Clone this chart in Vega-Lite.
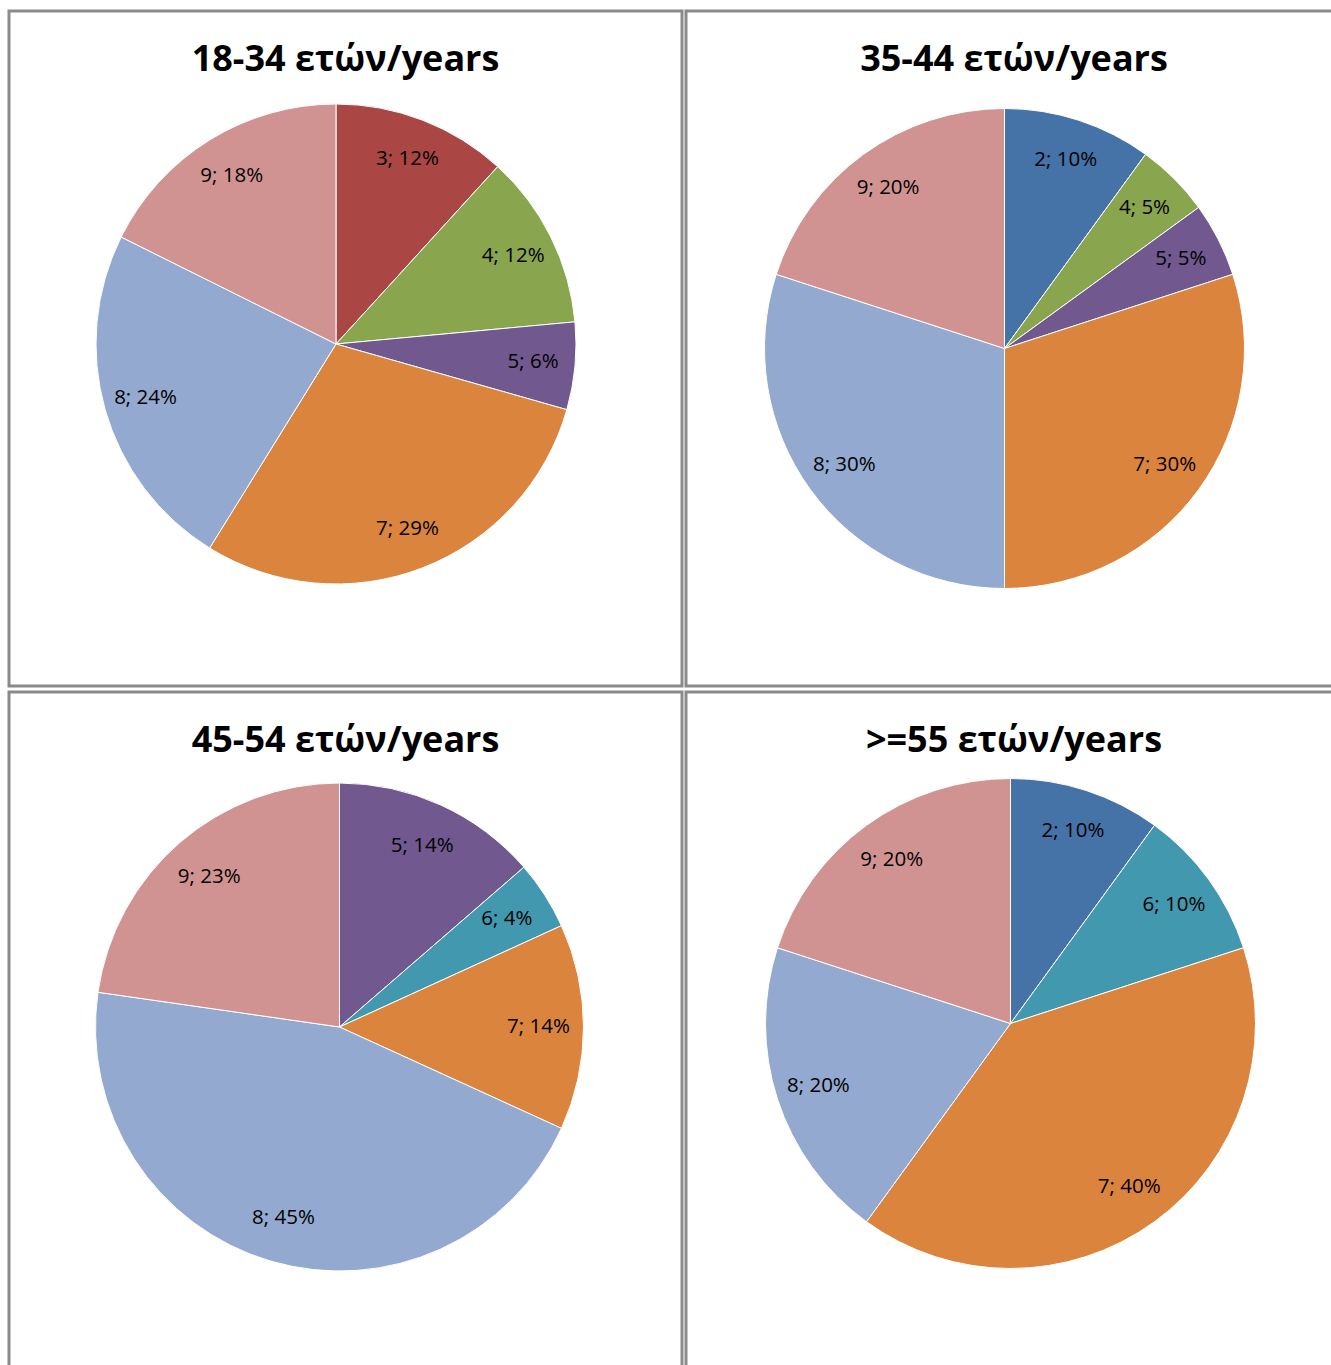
{
  "$schema": "https://vega.github.io/schema/vega-lite/v6.json",
  "background": "white",
  "padding": {"left": 7, "top": 9, "right": 0, "bottom": 0},
  "autosize": {"type": "pad"},
  "config": {
    "view": {"stroke": "#8a8a8a", "strokeWidth": 3},
    "title": {"font": "Open Sans", "fontSize": 36, "fontWeight": "bold", "color": "#000000", "anchor": "middle", "frame": "group", "baseline": "alphabetic", "offset": -68}
  },
  "datasets": {
    "pies": [
      {"panel": "18-34", "cat": "3", "n": 2, "label": "3; 12%"},
      {"panel": "18-34", "cat": "4", "n": 2, "label": "4; 12%"},
      {"panel": "18-34", "cat": "5", "n": 1, "label": "5; 6%"},
      {"panel": "18-34", "cat": "7", "n": 5, "label": "7; 29%"},
      {"panel": "18-34", "cat": "8", "n": 4, "label": "8; 24%"},
      {"panel": "18-34", "cat": "9", "n": 3, "label": "9; 18%"},
      {"panel": "35-44", "cat": "2", "n": 2, "label": "2; 10%"},
      {"panel": "35-44", "cat": "4", "n": 1, "label": "4; 5%"},
      {"panel": "35-44", "cat": "5", "n": 1, "label": "5; 5%"},
      {"panel": "35-44", "cat": "7", "n": 6, "label": "7; 30%"},
      {"panel": "35-44", "cat": "8", "n": 6, "label": "8; 30%"},
      {"panel": "35-44", "cat": "9", "n": 4, "label": "9; 20%"},
      {"panel": "45-54", "cat": "5", "n": 3, "label": "5; 14%"},
      {"panel": "45-54", "cat": "6", "n": 1, "label": "6; 4%"},
      {"panel": "45-54", "cat": "7", "n": 3, "label": "7; 14%"},
      {"panel": "45-54", "cat": "8", "n": 10, "label": "8; 45%"},
      {"panel": "45-54", "cat": "9", "n": 5, "label": "9; 23%"},
      {"panel": "55+", "cat": "2", "n": 1, "label": "2; 10%"},
      {"panel": "55+", "cat": "6", "n": 1, "label": "6; 10%"},
      {"panel": "55+", "cat": "7", "n": 4, "label": "7; 40%"},
      {"panel": "55+", "cat": "8", "n": 2, "label": "8; 20%"},
      {"panel": "55+", "cat": "9", "n": 2, "label": "9; 20%"}
    ]
  },
  "vconcat": [
    {
      "hconcat": [
        {
          "width": 673, "height": 675,
          "title": {"text": "18-34 ετών/years"},
          "data": {"name": "pies"},
          "transform": [{"filter": "datum.panel === '18-34'"}],
          "layer": [
            {"mark": {"type": "point", "opacity": 0, "size": 0, "strokeWidth": 0},
             "encoding": {
               "x": {"field": "n", "type": "quantitative", "axis": null, "scale": {"domain": [-100, 100]}},
               "y": {"field": "n", "type": "quantitative", "axis": null, "scale": {"domain": [-100, 100]}}}},
            {"mark": {"type": "arc", "outerRadius": 240, "stroke": "white", "strokeWidth": 1, "xOffset": -9.5, "yOffset": -4.5},
             "encoding": {
               "theta": {"field": "n", "type": "quantitative", "stack": true},
               "color": {"field": "cat", "type": "nominal", "legend": null, "scale": {"domain": ["2","3","4","5","6","7","8","9"], "range": ["#4572A7","#AA4643","#89A54E","#71588F","#4198AF","#DB843D","#93A9CF","#D19392"]}},
               "order": {"field": "cat", "type": "ordinal"}}},
            {"mark": {"type": "text", "radius": 198, "font": "Open Sans", "fontSize": 20.5, "color": "#000000", "xOffset": -9.5, "yOffset": -4.5},
             "encoding": {
               "theta": {"field": "n", "type": "quantitative", "stack": true},
               "text": {"field": "label", "type": "nominal"},
               "order": {"field": "cat", "type": "ordinal"}}}
          ]
        },
        {
          "width": 656, "height": 675,
          "title": {"text": "35-44 ετών/years"},
          "data": {"name": "pies"},
          "transform": [{"filter": "datum.panel === '35-44'"}],
          "layer": [
            {"mark": {"type": "point", "opacity": 0, "size": 0, "strokeWidth": 0},
             "encoding": {
               "x": {"field": "n", "type": "quantitative", "axis": null, "scale": {"domain": [-100, 100]}},
               "y": {"field": "n", "type": "quantitative", "axis": null, "scale": {"domain": [-100, 100]}}}},
            {"mark": {"type": "arc", "outerRadius": 240, "stroke": "white", "strokeWidth": 1, "xOffset": -9.5, "yOffset": 0},
             "encoding": {
               "theta": {"field": "n", "type": "quantitative", "stack": true},
               "color": {"field": "cat", "type": "nominal", "legend": null, "scale": {"domain": ["2","3","4","5","6","7","8","9"], "range": ["#4572A7","#AA4643","#89A54E","#71588F","#4198AF","#DB843D","#93A9CF","#D19392"]}},
               "order": {"field": "cat", "type": "ordinal"}}},
            {"mark": {"type": "text", "radius": 198, "font": "Open Sans", "fontSize": 20.5, "color": "#000000", "xOffset": -9.5, "yOffset": 0},
             "encoding": {
               "theta": {"field": "n", "type": "quantitative", "stack": true},
               "text": {"field": "label", "type": "nominal"},
               "order": {"field": "cat", "type": "ordinal"}}}
          ]
        }
      ],
      "spacing": 0,
      "resolve": {"scale": {"theta": "independent", "x": "independent", "y": "independent"}}
    },
    {
      "hconcat": [
        {
          "width": 673, "height": 675,
          "title": {"text": "45-54 ετών/years"},
          "data": {"name": "pies"},
          "transform": [{"filter": "datum.panel === '45-54'"}],
          "layer": [
            {"mark": {"type": "point", "opacity": 0, "size": 0, "strokeWidth": 0},
             "encoding": {
               "x": {"field": "n", "type": "quantitative", "axis": null, "scale": {"domain": [-100, 100]}},
               "y": {"field": "n", "type": "quantitative", "axis": null, "scale": {"domain": [-100, 100]}}}},
            {"mark": {"type": "arc", "outerRadius": 244, "stroke": "white", "strokeWidth": 1, "xOffset": -6, "yOffset": -2.5},
             "encoding": {
               "theta": {"field": "n", "type": "quantitative", "stack": true},
               "color": {"field": "cat", "type": "nominal", "legend": null, "scale": {"domain": ["2","3","4","5","6","7","8","9"], "range": ["#4572A7","#AA4643","#89A54E","#71588F","#4198AF","#DB843D","#93A9CF","#D19392"]}},
               "order": {"field": "cat", "type": "ordinal"}}},
            {"mark": {"type": "text", "radius": 199, "font": "Open Sans", "fontSize": 20.5, "color": "#000000", "xOffset": -6, "yOffset": -2.5},
             "encoding": {
               "theta": {"field": "n", "type": "quantitative", "stack": true},
               "text": {"field": "label", "type": "nominal"},
               "order": {"field": "cat", "type": "ordinal"}}}
          ]
        },
        {
          "width": 656, "height": 675,
          "title": {"text": ">=55 ετών/years"},
          "data": {"name": "pies"},
          "transform": [{"filter": "datum.panel === '55+'"}],
          "layer": [
            {"mark": {"type": "point", "opacity": 0, "size": 0, "strokeWidth": 0},
             "encoding": {
               "x": {"field": "n", "type": "quantitative", "axis": null, "scale": {"domain": [-100, 100]}},
               "y": {"field": "n", "type": "quantitative", "axis": null, "scale": {"domain": [-100, 100]}}}},
            {"mark": {"type": "arc", "outerRadius": 245, "stroke": "white", "strokeWidth": 1, "xOffset": -3.5, "yOffset": -6},
             "encoding": {
               "theta": {"field": "n", "type": "quantitative", "stack": true},
               "color": {"field": "cat", "type": "nominal", "legend": null, "scale": {"domain": ["2","3","4","5","6","7","8","9"], "range": ["#4572A7","#AA4643","#89A54E","#71588F","#4198AF","#DB843D","#93A9CF","#D19392"]}},
               "order": {"field": "cat", "type": "ordinal"}}},
            {"mark": {"type": "text", "radius": 202, "font": "Open Sans", "fontSize": 20.5, "color": "#000000", "xOffset": -3.5, "yOffset": -6},
             "encoding": {
               "theta": {"field": "n", "type": "quantitative", "stack": true},
               "text": {"field": "label", "type": "nominal"},
               "order": {"field": "cat", "type": "ordinal"}}}
          ]
        }
      ],
      "spacing": 0,
      "resolve": {"scale": {"theta": "independent", "x": "independent", "y": "independent"}}
    }
  ],
  "spacing": 2,
  "resolve": {"scale": {"theta": "independent", "x": "independent", "y": "independent"}}
}
